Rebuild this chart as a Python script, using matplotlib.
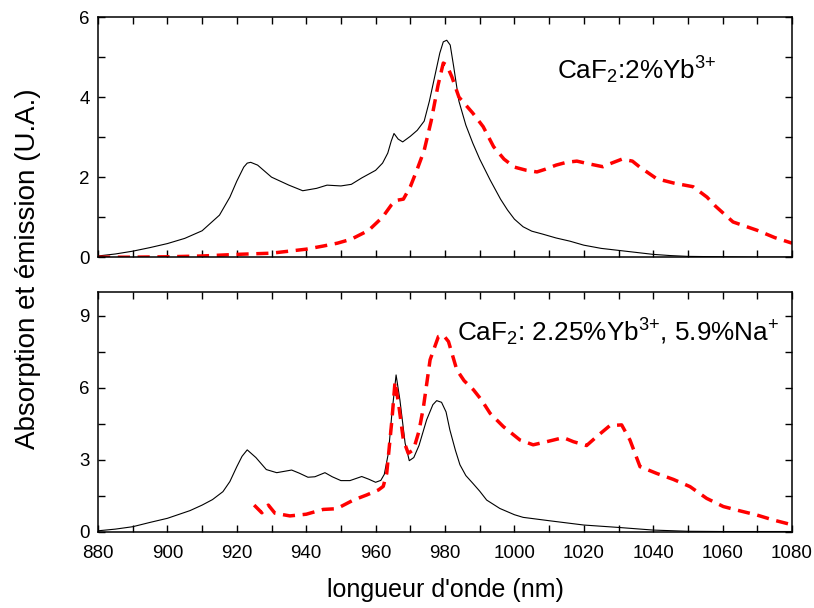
import matplotlib
matplotlib.use("Agg")
import matplotlib.pyplot as plt
from matplotlib.ticker import MultipleLocator

plt.rcParams['font.family'] = ['Liberation Sans', 'DejaVu Sans']
plt.rcParams['mathtext.fontset'] = 'custom'
plt.rcParams['mathtext.rm'] = 'Liberation Sans'
plt.rcParams['mathtext.it'] = 'Liberation Sans:italic'

# CaF2:2%Yb3+ absorption (black) and emission (red)
abs1_x = [880, 885, 890, 895, 900, 905, 910, 915, 918, 920, 922, 923, 924, 926, 930, 935, 939, 943, 946,
          950, 953, 956, 960, 962, 963.5, 964.5, 965.3, 966.5, 967.8, 970, 972, 974, 975.5, 977, 978.5,
          979.5, 980.5, 981.5, 982.5, 984, 986, 988, 990, 993, 996, 998, 1000, 1002.5, 1005, 1008, 1012,
          1016, 1020, 1025, 1030, 1035, 1040, 1045, 1050, 1060, 1070, 1080]
abs1_y = [0.03, 0.08, 0.15, 0.24, 0.34, 0.47, 0.66, 1.05, 1.5, 1.9, 2.25, 2.35, 2.37, 2.3, 2.0, 1.8, 1.66,
          1.72, 1.8, 1.78, 1.82, 1.98, 2.17, 2.35, 2.6, 2.9, 3.09, 2.95, 2.88, 3.02, 3.17, 3.4, 3.9, 4.5,
          5.1, 5.38, 5.42, 5.3, 4.76, 3.9, 3.3, 2.85, 2.45, 1.93, 1.45, 1.18, 0.95, 0.76, 0.65, 0.58, 0.48,
          0.4, 0.3, 0.22, 0.17, 0.12, 0.07, 0.04, 0.02, 0.01, 0.0, 0.0]
em1_x = [880, 890, 900, 910, 920, 930, 940, 945, 949, 953, 958, 962, 964.5, 966, 968, 970, 972, 974, 976,
         978, 979.5, 980.5, 982, 984, 986, 988, 991, 994, 997, 1000, 1003.5, 1006.5, 1009, 1012, 1015,
         1018, 1021, 1025.5, 1028, 1031, 1034, 1036, 1041, 1046, 1051.5, 1055.5, 1058, 1063, 1070, 1075,
         1080]
em1_y = [0, 0, 0.01, 0.03, 0.07, 0.1, 0.2, 0.28, 0.35, 0.45, 0.67, 1.0, 1.3, 1.42, 1.45, 1.76, 2.2, 2.67,
         3.4, 4.3, 4.85, 4.8, 4.5, 4.0, 3.8, 3.6, 3.26, 2.76, 2.45, 2.25, 2.17, 2.13, 2.2, 2.3, 2.37, 2.4,
         2.34, 2.26, 2.35, 2.45, 2.4, 2.26, 1.96, 1.85, 1.76, 1.5, 1.27, 0.88, 0.67, 0.49, 0.35]

# CaF2: 2.25%Yb3+, 5.9%Na+
abs2_x = [880, 885, 890, 895, 900, 906.5, 910, 913, 916, 918, 920, 921.5, 923, 925.5, 928.5, 931.5, 935.8,
          938, 940.5, 942.5, 945.4, 947.5, 950, 952.6, 956, 958, 960, 961.5, 962.5, 963.7, 964.7, 965.9,
          967, 968.5, 969.7, 971, 972.5, 974.7, 976.5, 977.6, 979, 980.3, 981.4, 983, 984.3, 986, 988,
          990, 992, 995.8, 1000, 1002.5, 1010, 1020, 1030, 1040, 1050, 1060, 1080]
abs2_y = [0.05, 0.12, 0.22, 0.4, 0.57, 0.89, 1.12, 1.35, 1.68, 2.1, 2.72, 3.15, 3.42, 3.1, 2.6, 2.47, 2.58,
          2.45, 2.28, 2.3, 2.47, 2.3, 2.14, 2.14, 2.31, 2.2, 2.07, 2.15, 2.4, 3.3, 4.95, 6.54, 5.5, 3.7,
          2.97, 3.1, 3.6, 4.67, 5.3, 5.47, 5.4, 5.0, 4.25, 3.4, 2.8, 2.35, 2.03, 1.7, 1.33, 0.98, 0.72,
          0.61, 0.47, 0.29, 0.19, 0.08, 0.03, 0.02, 0.02]
em2_x = [925, 927.2, 929.1, 931, 935.3, 940, 944.9, 948.8, 953.6, 957.4, 960.8, 962.2, 963.2, 964.7, 965.6,
         966.6, 968, 969.4, 970.9, 972.5, 973.8, 975.7, 978.1, 979.5, 981, 983.4, 985.5, 988.2, 990.5,
         993, 996.8, 1001.6, 1005.4, 1009.3, 1014.1, 1017, 1020.8, 1023.7, 1027.5, 1030.9, 1033.3,
         1036.2, 1041, 1045.8, 1050.6, 1055.4, 1060.2, 1065, 1069.8, 1074.6, 1080]
em2_y = [1.12, 0.8, 1.12, 0.78, 0.67, 0.74, 0.94, 0.97, 1.33, 1.54, 1.75, 1.9, 2.44, 4.67, 6.26, 5.36,
         3.83, 3.28, 3.42, 4.2, 5.22, 7.17, 8.14, 8.2, 7.93, 6.75, 6.3, 5.92, 5.5, 4.94, 4.39, 3.83, 3.63,
         3.76, 3.93, 3.76, 3.6, 3.97, 4.43, 4.46, 3.83, 2.72, 2.44, 2.19, 1.89, 1.4, 1.06, 0.88, 0.71,
         0.5, 0.3]

label1 = r'CaF$_2$:2%Yb$^{3{+}}$'
label2 = r'CaF$_2$: 2.25%Yb$^{3{+}}$, 5.9%Na$^{{+}}$'

fig = plt.figure(figsize=(8.14, 6.08), dpi=100)
ax1 = fig.add_axes([0.1204, 0.577, 0.8526, 0.395])
ax2 = fig.add_axes([0.1204, 0.125, 0.8526, 0.395])

for ax, ax_, ay, ex, ey in [(ax1, abs1_x, abs1_y, em1_x, em1_y), (ax2, abs2_x, abs2_y, em2_x, em2_y)]:
    ax.plot(ax_, ay, color='black', lw=0.8)
    ax.plot(ex, ey, color='red', lw=2.5, dashes=(3.5, 2.2))
    ax.set_xlim(880, 1080)
    ax.xaxis.set_major_locator(MultipleLocator(20))
    ax.xaxis.set_minor_locator(MultipleLocator(10))
    ax.tick_params(which='both', direction='in', top=True, right=True, length=5, width=1,
                   labelsize=13.5)
    ax.tick_params(axis='x', pad=9)
    ax.tick_params(axis='y', pad=6)
    for s in ax.spines.values():
        s.set_linewidth(1.1)

ax1.set_ylim(0, 6)
ax1.yaxis.set_major_locator(MultipleLocator(2))
ax1.yaxis.set_minor_locator(MultipleLocator(1))
ax1.tick_params(labelbottom=False)

ax2.set_ylim(0, 10)
ax2.yaxis.set_major_locator(MultipleLocator(3))
ax2.yaxis.set_minor_locator(MultipleLocator(1.5))

ax1.text(1012.3, 4.43, label1, fontsize=18.8, va='baseline', ha='left')
ax2.text(983.5, 7.93, label2, fontsize=18.8, va='baseline', ha='left')

ax2.set_xlabel("longueur d'onde (nm)", fontsize=18, labelpad=12)
fig.text(0.034, 0.558, 'Absorption et émission (U.A.)', rotation=90, fontsize=20,
         va='center', ha='center')

fig.savefig('out.png', dpi=100)
